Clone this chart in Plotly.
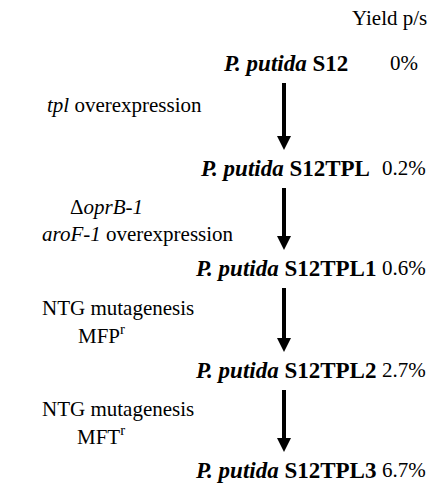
import plotly.graph_objects as go

# ---- data ----
strain_prefix = ["P. putida", "P. putida", "P. putida", "P. putida", "P. putida"]
strain_names = ["S12", "S12TPL", "S12TPL1", "S12TPL2", "S12TPL3"]
yields = ["0%", "0.2%", "0.6%", "2.7%", "6.7%"]
yield_header = "Yield p/s"
modifications = [
    ["<i>tpl</i> overexpression"],
    ["Δ<i>oprB-1</i>", "<i>aroF-1</i> overexpression"],
    ["NTG mutagenesis", "MFP<sup>r</sup>"],
    ["NTG mutagenesis", "MFT<sup>r</sup>"],
]

# ---- layout (pixel space) ----
W, H = 430, 485
row_y = [63, 168, 268, 370, 470]
arrow_x = 284
strain_x = 285
yield_x = 404
mod_x = [[124], [106, 138], [118, 101], [118, 101]]
line_gap = 27
FONT = "'Liberation Serif', 'Times New Roman', Times, 'DejaVu Serif', serif"
FS = 21
FS_STRAIN = 23

fig = go.Figure()
fig.add_trace(go.Scatter(x=[0, W], y=[0, H], mode="markers",
                         marker=dict(opacity=0), hoverinfo="skip", showlegend=False))

ann = []
ann.append(dict(x=429, y=18, text=yield_header, xanchor="right", yanchor="middle",
                showarrow=False, font=dict(family=FONT, size=FS, color="black")))
for i, (p, s, yv) in enumerate(zip(strain_prefix, strain_names, yields)):
    ann.append(dict(x=strain_x, y=row_y[i], text=f"<b><i>{p}</i> {s}</b>",
                    xanchor="center", yanchor="middle", showarrow=False,
                    font=dict(family=FONT, size=FS_STRAIN, color="black")))
    ann.append(dict(x=yield_x, y=row_y[i], text=yv, xanchor="center", yanchor="middle",
                    showarrow=False, font=dict(family=FONT, size=FS, color="black")))

shapes = []
for i, lines in enumerate(modifications):
    top = row_y[i] + 20
    tip = row_y[i + 1] - 18
    head = 14
    shapes.append(dict(type="line", x0=arrow_x, x1=arrow_x, y0=top, y1=tip - head + 1,
                       line=dict(color="black", width=4)))
    shapes.append(dict(type="path",
                       path=f"M {arrow_x-7},{tip-head} L {arrow_x+7},{tip-head} L {arrow_x},{tip} Z",
                       fillcolor="black", line=dict(color="black", width=0)))
    mid = (top + tip) / 2
    n = len(lines)
    if n == 1:
        ys = [mid - 12]
    else:
        ys = [mid - line_gap / 2 + k * line_gap + 1 for k in range(n)]
    for k, t in enumerate(lines):
        ann.append(dict(x=mod_x[i][k], y=ys[k], text=t, xanchor="center", yanchor="middle",
                        showarrow=False, font=dict(family=FONT, size=FS, color="black")))

fig.update_layout(
    width=W, height=H, margin=dict(l=0, r=0, t=0, b=0),
    paper_bgcolor="white", plot_bgcolor="white",
    font=dict(family=FONT, size=FS, color="black"),
    xaxis=dict(range=[0, W], visible=False, fixedrange=True),
    yaxis=dict(range=[H, 0], visible=False, fixedrange=True),
    annotations=ann, shapes=shapes, showlegend=False,
)
fig.write_html("out.html", config={"displayModeBar": False, "staticPlot": True},
               post_script="document.body.style.margin='0';document.body.style.overflow='hidden';")
